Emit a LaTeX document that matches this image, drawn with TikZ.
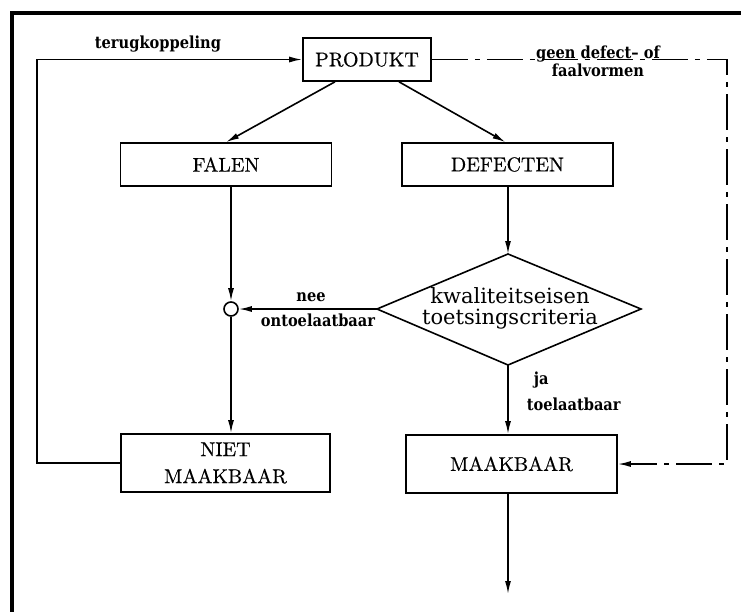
\documentclass[tikz,border=0pt]{standalone}
\usepackage{fontspec}
\usetikzlibrary{arrows.meta,calc}
\newfontfamily\boxfont{Latin Modern Roman}[FakeBold=0.5]
\newfontfamily\critfont{DejaVu Serif}
\newfontfamily\tagfont[FakeStretch=0.88]{DejaVu Serif}

\begin{document}
\begin{tikzpicture}[x=0.5pt,y=-0.5pt,line width=0.8pt,
  box/.style={draw, inner sep=0pt, align=center,
    font={\boxfont\fontsize{10}{13.5}\selectfont}},
  flow/.style={-{Latex[length=6.5pt,width=3pt]}},
  dashpat/.style={dash pattern=on 18pt off 3.5pt on 2.5pt off 3.5pt},
  tag/.style={inner sep=0pt, align=center,
    font={\tagfont\bfseries\fontsize{8.3}{9}\selectfont}},
]
\useasboundingbox (0,0) rectangle (741,612);

% outer frame (top and left edges)
\draw[line width=1.6pt] (12,612) -- (12,13) -- (741,13);

% boxes
\node[box, minimum width=64pt,    minimum height=21.5pt] (prod)  at (367,59.5)   {PRODUKT};
\node[box, minimum width=105.5pt, minimum height=21.5pt] (falen) at (226,164.5)  {FALEN};
\node[box, minimum width=105.5pt, minimum height=21.5pt] (def)   at (507.5,164.5) {DEFECTEN};
\node[box, minimum width=104.5pt, minimum height=29pt]   (niet)  at (225.5,463)  {NIET\\MAAKBAAR};
\node[box, minimum width=105.5pt, minimum height=29pt]   (maak)  at (511.5,464)  {MAAKBAAR};

% decision diamond
\coordinate (dt) at (508,254);
\coordinate (dr) at (641,309);
\coordinate (db) at (508,365);
\coordinate (dl) at (377,309);
\draw (dt) -- (dr) -- (db) -- (dl) -- cycle;
\node[inner sep=0pt, align=center,
  font={\critfont\fontsize{10.5}{10.5}\selectfont}] (crit) at (510,308)
  {kwaliteitseisen\\toetsingscriteria};

% junction
\node[draw, circle, minimum size=7pt, inner sep=0pt] (join) at (231,309) {};

% helper points
\coordinate (out) at (508,594);
\coordinate (fbx) at (37,0);
\coordinate (dsx) at (727,0);

% connectors
\draw[flow] ($(prod.south)+(-32,0)$) -- (falen.north);
\draw[flow] ($(prod.south)+(32,0)$) -- ($(def.north)+(-2,0)$);
\draw[flow] (falen.south -| join) -- (join);
\draw[flow] (def.south -| dt) -- (dt);
\draw[flow] (dl) -- (join);
\draw[flow] (join) -- (join |- niet.north);
\draw[flow] (db) -- (db |- maak.north);
\draw[flow] (maak.south -| out) -- (out);
\draw[flow] (niet.west) -- (niet.west -| fbx) -- (fbx |- prod.west) -- (prod.west);
\draw[flow, dashpat] (prod.east) -- (prod.east -| dsx) -- (dsx |- maak.east) -- (maak.east);

% labels
\node[tag] (fbl)  at (158,44)  {terugkoppeling};
\node[tag] (gdl)  at (598,61)  {geen defect– of\\faalvormen};
\node[tag] (nee)  at (311,297) {nee};
\node[tag] (ontl) at (318,320) {ontoelaatbaar};
\node[tag, anchor=west] (ja) at (533,380) {ja};
\node[tag, anchor=west] (tl) at (526,404) {toelaatbaar};
\end{tikzpicture}
\end{document}
